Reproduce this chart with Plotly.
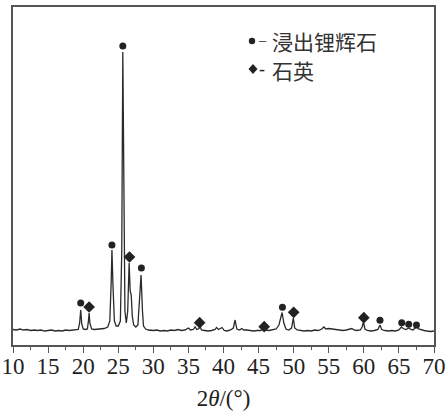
import plotly.graph_objects as go

# XRD pattern (2θ in degrees, intensity in arbitrary units)
two_theta = [10.0, 10.5, 11.0, 11.5, 12.0, 12.5, 13.0, 13.5, 14.0, 14.5, 15.0, 15.5, 16.0, 16.5, 17.0,
             17.5, 18.0, 18.5, 19.0, 19.3, 19.5, 19.65, 19.8, 20.0, 20.3, 20.6, 20.75, 20.85, 20.95,
             21.2, 21.6, 22.0, 22.5, 23.0, 23.5, 23.8, 24.0, 24.1, 24.25, 24.45, 24.7, 25.0, 25.3,
             25.5, 25.65, 25.8, 25.95, 26.15, 26.35, 26.55, 26.7, 26.85, 27.0, 27.2, 27.5, 27.8,
             28.0, 28.25, 28.45, 28.6, 28.9, 29.3, 30.0, 30.5, 31.0, 31.5, 32.0, 32.5, 33.0, 33.5,
             34.0, 34.5, 35.0, 35.3, 35.7, 35.95, 36.2, 36.5, 36.65, 36.85, 37.3, 37.8, 38.3, 38.8,
             39.0, 39.3, 39.8, 40.1, 40.5, 41.0, 41.4, 41.65, 41.9, 42.3, 42.6, 42.9, 43.3, 43.8,
             44.3, 44.8, 45.3, 45.7, 46.0, 46.5, 47.0, 47.5, 47.9, 48.2, 48.35, 48.6, 48.9, 49.3,
             49.7, 49.95, 50.15, 50.5, 51.0, 51.5, 52.0, 52.5, 53.0, 53.5, 54.0, 54.3, 54.6, 55.0,
             55.5, 56.0, 56.5, 57.0, 57.5, 58.0, 58.3, 58.6, 59.0, 59.5, 59.75, 59.95, 60.15, 60.5,
             61.0, 61.5, 62.0, 62.3, 62.55, 63.0, 63.5, 64.0, 64.5, 65.0, 65.35, 65.6, 66.0, 66.4,
             66.7, 67.0, 67.5, 67.8, 68.2, 68.6, 69.0, 69.5, 70.0]
intensity = [1.5, 1, 2, 1, 1.5, 0.5, 1, 0.5, 1, 0, 0.5, 1, 0, 0.5, 0,
             1, 0.5, 1, 1, 1.5, 8, 21, 7, 2, 1.5, 2, 10, 18, 8,
             2, 1.5, 2, 2, 2.5, 4, 10, 50, 81, 45, 10, 5, 5, 10,
             80, 279, 80, 20, 8, 20, 68, 40, 36, 15, 6, 4, 6,
             25, 56, 20, 5, 2, 1, 0.5, 1, 0, 0.5, 0, 1, 0.5, 1.5,
             0.5, 1, 3, 1, 1.5, 4, 1.5, 2.5, 5, 1, 0.5, 0, 0.5, 1.5,
             3.5, 1.5, 3.5, 0.5, 0, 1, 3, 11, 2, 1, 2.5, 1, 1, 0.5,
             0, 0.5, 0.5, 2, 1, 0.5, 1, 2, 6, 16, 18.5, 8, 2, 1,
             3, 13, 3, 1, 0.5, 0, 0.5, 0, 1, 0.5, 2, 4, 2, 2.5,
             2, 1.5, 1, 0.5, 1, 1.5, 2.5, 1, 0.5, 1, 4, 9, 2, 0.5,
             0, 0.5, 1.5, 6, 1.5, 0.5, 0, 0.5, 0, 1, 4, 2.5, 1.5, 3,
             1.5, 1, 4, 2, 1, 0.5, 0, -0.5, 0]

# peak labels: leached spodumene (circles) and quartz (diamonds)
spod_x = [19.65, 24.1, 25.65, 28.3, 48.4, 62.3, 65.4, 66.4, 67.5]
spod_y = [28, 86, 285, 63, 23.7, 10.7, 8.3, 6.7, 6]
quartz_x = [20.85, 26.6, 36.6, 45.8, 50.0, 60.0]
quartz_y = [24, 74, 8.3, 4.3, 18.7, 13.3]

legend_labels = ["浸出锂辉石", "石英"]
tick_vals = list(range(10, 71, 5))

ink = "#222222"
frame = "#555555"
serif = "Liberation Serif, Times New Roman, DejaVu Serif, serif"
cjk = "Noto Sans CJK SC, sans-serif"

fig = go.Figure()
fig.add_trace(go.Scatter(x=two_theta, y=intensity, mode="lines",
                         line=dict(color="#2a2a2a", width=1.3), showlegend=False))
fig.add_trace(go.Scatter(x=spod_x, y=spod_y, mode="markers",
                         marker=dict(symbol="circle", size=7, color=ink), showlegend=False))
fig.add_trace(go.Scatter(x=quartz_x, y=quartz_y, mode="markers",
                         marker=dict(symbol="diamond", size=9, color=ink), showlegend=False))

# legend drawn by hand (marker, dash, text)
L, T, W, H = 13, 7, 421, 338
def px(x):
    return (x - L) / W
def py(y):
    return (T + H - y) / H

fig.add_shape(type="circle", xref="paper", yref="paper", xsizemode="pixel", ysizemode="pixel",
              xanchor=px(252), yanchor=py(41), x0=-3.2, x1=3.2, y0=-3.2, y1=3.2,
              fillcolor=ink, line=dict(width=0))
fig.add_shape(type="path", xref="paper", yref="paper", xsizemode="pixel", ysizemode="pixel",
              xanchor=px(253), yanchor=py(69), path="M 0,5 L 4.5,0 L 0,-5 L -4.5,0 Z",
              fillcolor=ink, line=dict(width=0))
fig.add_annotation(xref="paper", yref="paper", x=px(255.5), y=py(41), xanchor="left", yanchor="middle",
                   text="–", showarrow=False, font=dict(family=serif, size=14, color=ink))
fig.add_annotation(xref="paper", yref="paper", x=px(257), y=py(69), xanchor="left", yanchor="middle",
                   text="-", showarrow=False, font=dict(family=serif, size=18, color=ink))
fig.add_annotation(xref="paper", yref="paper", x=px(270), y=py(41), xanchor="left", yanchor="middle",
                   text=legend_labels[0], showarrow=False, font=dict(family=cjk, size=21, color="#333333"))
fig.add_annotation(xref="paper", yref="paper", x=px(270), y=py(70), xanchor="left", yanchor="middle",
                   text=legend_labels[1], showarrow=False, font=dict(family=cjk, size=21, color="#333333"))

fig.update_xaxes(range=[10, 70], tickvals=tick_vals, ticks="outside", ticklen=6, tickwidth=1.2,
                 tickcolor=frame, showline=True, linecolor=frame, linewidth=1.5, mirror=True,
                 showgrid=False, zeroline=False, automargin=False, ticklabelstandoff=-6,
                 minor=dict(dtick=2.5, tick0=10, ticks="outside", ticklen=3, tickcolor=frame, showgrid=False),
                 tickfont=dict(family=serif, size=23, color=ink),
                 title=dict(text="2<i>θ</i>/(°)", font=dict(family=serif, size=23, color=ink),
                            standoff=13))
fig.update_yaxes(range=[-14, 324], showticklabels=False, ticks="", showline=True, linecolor=frame,
                 linewidth=1.5, mirror=True, showgrid=False, zeroline=False, automargin=False)
fig.update_layout(width=447, height=411, margin=dict(l=L, r=447 - L - W, t=T, b=411 - T - H),
                  plot_bgcolor="white", paper_bgcolor="white", showlegend=False)
fig.write_html("out.html", config={"displayModeBar": False},
               post_script="document.body.style.margin='0';")
